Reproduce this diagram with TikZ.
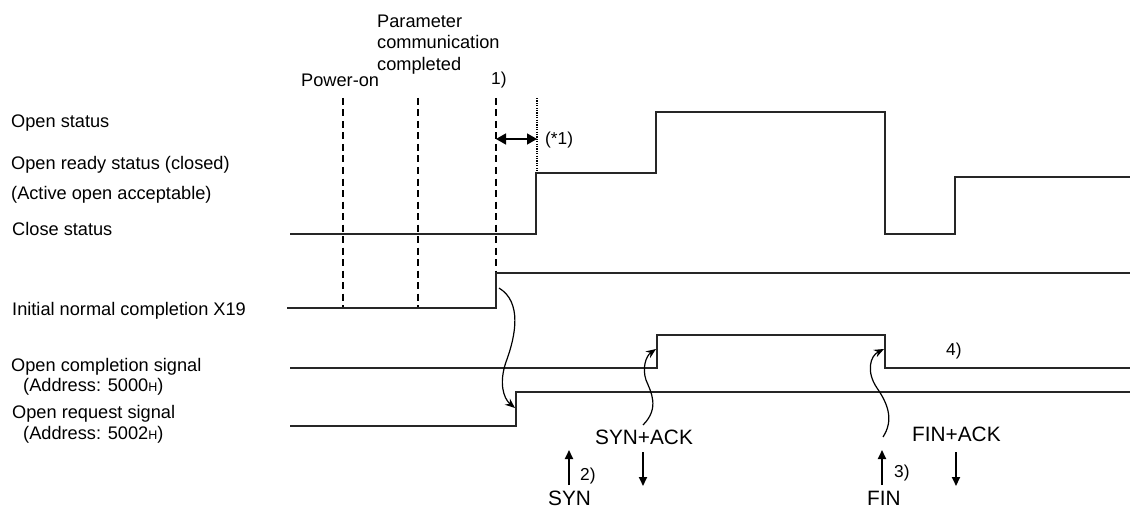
\documentclass[tikz,border=0pt]{standalone}
\usepackage{fontspec}
\setmainfont{Liberation Sans}
\usetikzlibrary{arrows.meta}
\begin{document}
\begin{tikzpicture}[x=1pt,y=-1pt,
  lbl/.style={anchor=base west,inner sep=0pt,font=\fontsize{18.2}{21.5}\selectfont},
  sml/.style={anchor=base west,inner sep=0pt,font=\fontsize{17.3}{20}\selectfont},
  big/.style={anchor=base west,inner sep=0pt,font=\fontsize{20.8}{24}\selectfont},
  sig/.style={line width=1.7pt,color=black!85},
  dashline/.style={line width=2pt,dash pattern=on 7pt off 4.5pt},
  dotline/.style={line width=1.8pt,dash pattern=on 1.2pt off 1.2pt},
  curvearrow/.style={line width=1.2pt,-{Stealth[length=10pt,width=8pt]}},
  straightarrow/.style={line width=1.8pt,-{Triangle[length=9pt,width=8pt]}}
]
\useasboundingbox (0,0) rectangle (1130,508);
\newcommand{\smH}{{\fontsize{12.5}{12}\selectfont H}}

% left labels
\node[lbl] (openst) at (11,128) {Open status};
\node[lbl] (readyst) at (11,170) {Open ready status (closed)};
\node[lbl] (activeop) at (11,200) {(Active open acceptable)};
\node[lbl] (closest) at (12,235) {Close status};
\node[lbl] (x19) at (12,315) {Initial normal completion X19};
\node[lbl] (opencomp) at (11,371) {Open completion signal};
\node[lbl] (addr1) at (23,391) {(Address: 5000\smH)};
\node[lbl] (openreq) at (12,418) {Open request signal};
\node[lbl] (addr2) at (23,439) {(Address: 5002\smH)};

% top labels
\node[anchor=north west,inner sep=0pt,align=left,font=\fontsize{18.2}{21.5}\selectfont] (param) at (377,14.5) {Parameter\\communication\\completed};
\node[lbl] (poweron) at (301,87) {Power-on};
\node[sml] (one) at (491,85) {1)};
\node[sml] (star) at (545,145) {(*1)};
\node[sml] (four) at (946,355) {4)};

% marker lines
\draw[dashline] (343,98) coordinate (pa) -- (343,307) coordinate (pb);
\draw[dashline] (418,98) coordinate (qa) -- (418,307) coordinate (qb);
\draw[dashline] (496,98) coordinate (ra) -- (496,273) coordinate (rb);
\draw[dotline] (537,98) coordinate (sa) -- (537,172) coordinate (sb);
\coordinate (dl) at (496,139);
\coordinate (dr) at (537,139);
\draw[line width=1.5pt,{Triangle[length=10pt,width=11pt]}-{Triangle[length=10pt,width=11pt]}] (dl) -- (dr);

% signals
\draw[sig] (290,234) -- (536,234) -- (536,173) -- (656,173) -- (656,112) -- (885,112) -- (885,234) -- (955,234) -- (955,177) -- (1130,177);
\draw[sig] (287,308) -- (496,308) -- (496,273) -- (1130,273);
\draw[sig] (290,368) -- (657,368) -- (657,335) -- (885,335) -- (885,368) -- (1130,368);
\draw[sig] (290,426) -- (516,426) -- (516,392) -- (1130,392);

% bottom labels
\node[big] (synack) at (595,444) {SYN+ACK};
\node[big] (syn) at (548,505.5) {SYN};
\node[sml] (two) at (580,480) {2)};
\node[big] (finack) at (912,441) {FIN+ACK};
\node[big] (fin) at (867,505.5) {FIN};
\node[sml] (three) at (894,477.5) {3)};

\coordinate (synb) at (569,485); \coordinate (synt) at (569,450);
\coordinate (sab) at (643,452); \coordinate (sat) at (643,486);
\coordinate (finb) at (882,485); \coordinate (fint) at (882,450);
\coordinate (fab) at (956,452); \coordinate (fat) at (956,486);
\draw[straightarrow] (synb) -- (synt);
\draw[straightarrow] (sab) -- (sat);
\draw[straightarrow] (finb) -- (fint);
\draw[straightarrow] (fab) -- (fat);

% curved arrows
\coordinate (c1s) at (499,288); \coordinate (c1e) at (515,408);
\draw[curvearrow] (c1s) .. controls (522,302) and (516,335) .. (506,362) .. controls (499,382) and (503,398) .. (c1e);
\coordinate (c2s) at (643,425); \coordinate (c2e) at (656,349);
\draw[curvearrow] (c2s) .. controls (660,408) and (651,392) .. (646,380) .. controls (642,368) and (646,356) .. (c2e);
\coordinate (c3s) at (883,437); \coordinate (c3e) at (884,349);
\draw[curvearrow] (c3s) .. controls (894,420) and (888,404) .. (877,388) .. controls (866,372) and (870,356) .. (c3e);
\end{tikzpicture}
\end{document}
